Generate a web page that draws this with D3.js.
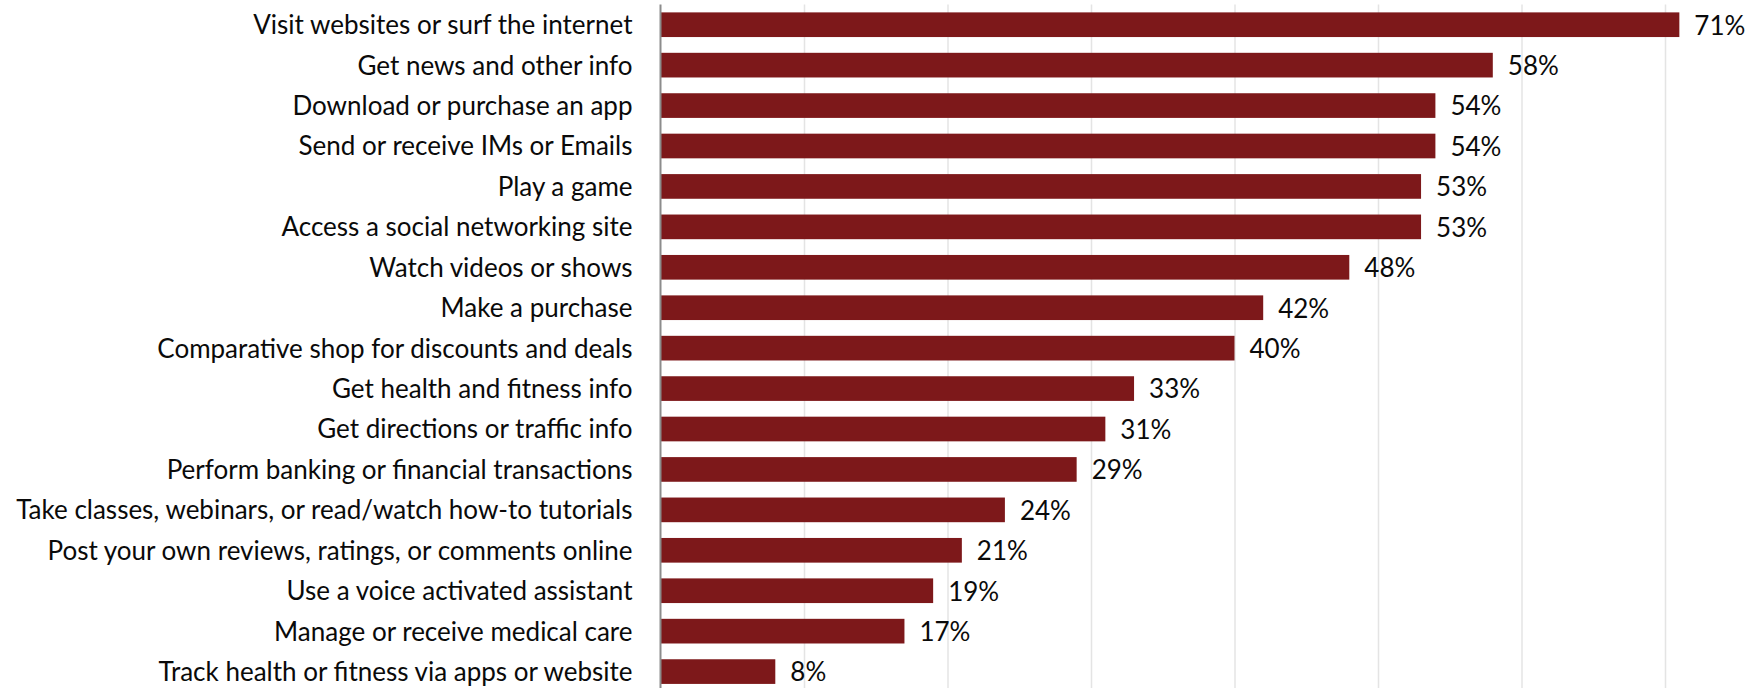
<!DOCTYPE html>
<html>
<head>
<meta charset="utf-8">
<script src="https://cdn.jsdelivr.net/npm/d3@7"></script>
<style>
  html, body { margin: 0; padding: 0; background: #fff; }
  svg { display: block; }
</style>
</head>
<body>
<svg id="chart" width="1764" height="688"></svg>
<script>
// Activities done on a mobile device, share of respondents
const categories = [
  "Visit websites or surf the internet",
  "Get news and other info",
  "Download or purchase an app",
  "Send or receive IMs or Emails",
  "Play a game",
  "Access a social networking site",
  "Watch videos or shows",
  "Make a purchase",
  "Comparative shop for discounts and deals",
  "Get health and fitness info",
  "Get directions or traffic info",
  "Perform banking or financial transactions",
  "Take classes, webinars, or read/watch how-to tutorials",
  "Post your own reviews, ratings, or comments online",
  "Use a voice activated assistant",
  "Manage or receive medical care",
  "Track health or fitness via apps or website"
];
const values = [71, 58, 54, 54, 53, 53, 48, 42, 40, 33, 31, 29, 24, 21, 19, 17, 8];
const gridTicks = [10, 20, 30, 40, 50, 60, 70, 80];

const svg = d3.select("#chart");
const fontFamily = "Lato, 'Open Sans', sans-serif";
const fontSize = 26;

const plotLeft = 660.5, plotTop = 4.5, plotBottom = 691.8;
const x = d3.scaleLinear().domain([0, 80]).range([plotLeft, plotLeft + 80 * 14.35]);
const y = d3.scaleBand().domain(categories).range([plotTop, plotBottom])
  .paddingInner(0.39).paddingOuter(0.195);

// vertical gridlines
const grid = svg.append("g")
  .attr("transform", `translate(0,${plotTop})`)
  .call(d3.axisBottom(x).tickValues(gridTicks).tickSize(700).tickFormat(""));
grid.select(".domain").remove();
grid.selectAll(".tick line").attr("stroke", "#e4e4e4").attr("stroke-width", 1.5);

// bars
svg.append("g").selectAll("rect")
  .data(values)
  .join("rect")
  .attr("x", x(0))
  .attr("y", (d, i) => y(categories[i]))
  .attr("width", d => x(d) - x(0))
  .attr("height", y.bandwidth())
  .attr("fill", "#7d181a");

// category axis
const yAxis = svg.append("g")
  .attr("transform", `translate(${plotLeft},0)`)
  .call(d3.axisLeft(y).tickSize(0).tickPadding(28));
yAxis.select(".domain")
  .attr("d", `M0,${plotTop}V688`)
  .attr("stroke", "#8c8c8c").attr("stroke-width", 2);
yAxis.selectAll("text")
  .attr("dy", "0.36em")
  .attr("font-family", fontFamily)
  .attr("font-size", fontSize)
  .attr("fill", "#0a0a0a");

// value labels
svg.append("g").selectAll("text")
  .data(values)
  .join("text")
  .attr("x", d => x(d) + 15)
  .attr("y", (d, i) => y(categories[i]) + y.bandwidth() / 2)
  .attr("dy", "0.38em")
  .attr("font-family", fontFamily)
  .attr("font-size", fontSize)
  .attr("fill", "#0a0a0a")
  .text(d => d + "%");
</script>
</body>
</html>
